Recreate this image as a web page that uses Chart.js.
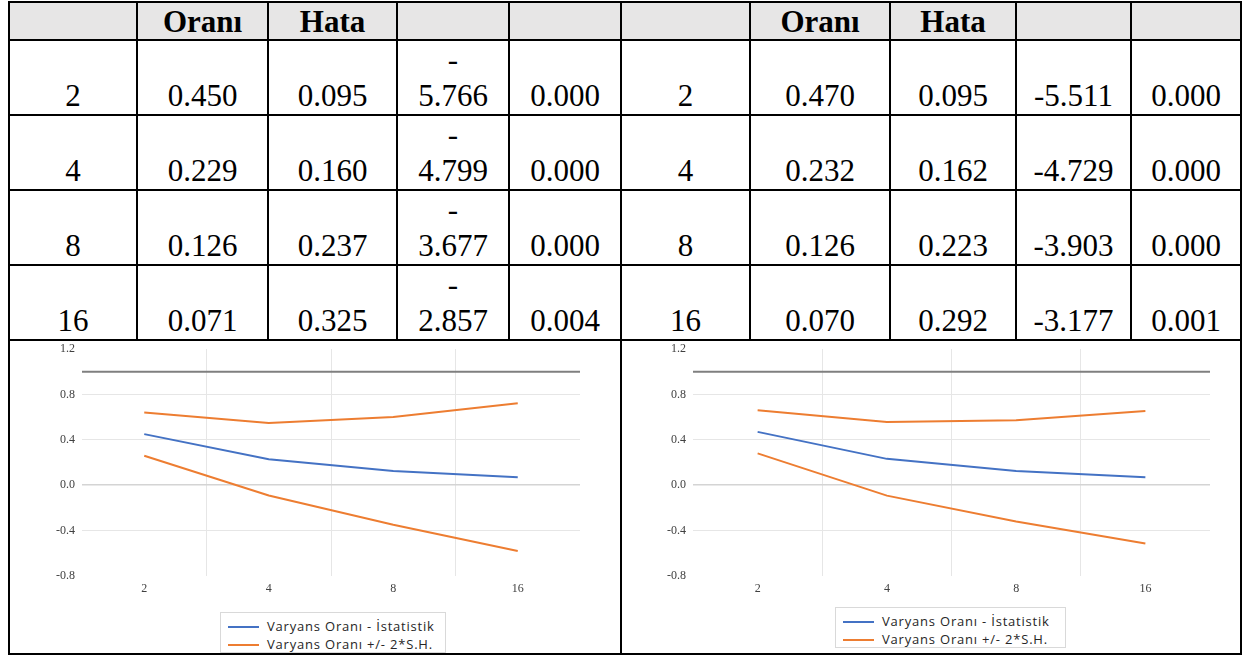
<!DOCTYPE html>
<html>
<head>
<meta charset="utf-8">
<title>Varyans Oranı</title>
<script src="https://cdn.jsdelivr.net/npm/chart.js@4.4.1/dist/chart.umd.min.js"></script>
<style>
  html, body { margin: 0; padding: 0; background: #fff; }
  body { width: 1247px; height: 657px; overflow: hidden; position: relative; }

  table.vr {
    position: absolute; left: 8px; top: 1px;
    border-collapse: collapse; table-layout: fixed;
    font-size: 31px; color: #000;
  }
  table.vr, table.vr td { font-family: "Liberation Serif", "Times New Roman", serif !important; }
  table.vr td {
    border: 2px solid #000; padding: 0;
    text-align: center; vertical-align: bottom; line-height: 36px;
    box-sizing: border-box;
  }
  table.vr tr.head td { background: #e7e6e6; font-weight: bold; height: 38px; vertical-align: middle; line-height: 33px; }
  table.vr tr.row td { height: 75px; }
  table.vr tr.charts td { height: 314px; }

  .chart-wrap { position: absolute; top: 341px; height: 311px; }
  #wrapLeft { left: 11px; width: 609px; }
  #wrapRight { left: 623px; width: 617px; }

  .legend {
    position: absolute; box-sizing: border-box; border: 1px solid #d9d9d9; background: #fff;
    font-family: "Open Sans", "Liberation Sans", sans-serif; font-size: 13px; color: #262626;
    letter-spacing: 0.8px; padding: 4px 0 0 7px;
  }
  .legend .item { height: 18px; line-height: 18px; white-space: nowrap; }
  .legend .swatch { display: inline-block; width: 31px; border-top: 2px solid; vertical-align: middle; margin-right: 8px; position: relative; top: -1px; }
  #legendLeft { left: 220px; top: 612px; width: 226px; height: 41px; }
  #legendRight { left: 835px; top: 607px; width: 231px; height: 41px; }
</style>
</head>
<body>

<table class="vr" id="vr-table">
  <colgroup>
    <col style="width:128px"><col style="width:131px"><col style="width:129px"><col style="width:112px"><col style="width:112px">
    <col style="width:129px"><col style="width:140px"><col style="width:126px"><col style="width:115px"><col style="width:110px">
  </colgroup>
  <tbody id="vr-body"></tbody>
</table>

<div class="chart-wrap" id="wrapLeft"><canvas id="chartLeft"></canvas></div>
<div class="chart-wrap" id="wrapRight"><canvas id="chartRight"></canvas></div>
<div class="legend" id="legendLeft"></div>
<div class="legend" id="legendRight"></div>

<script>
// table + two variance-ratio charts (left / right panels)

const lags = ["2", "4", "8", "16"];
const headerCells = ["", "Oranı", "Hata", "", ""];

// left panel
const leftRatio = [0.450, 0.229, 0.126, 0.071];
const leftSE = [0.095, 0.160, 0.237, 0.325];
const leftZ = [-5.766, -4.799, -3.677, -2.857];
const leftP = [0.000, 0.000, 0.000, 0.004];
const leftUpper = [0.640, 0.549, 0.600, 0.721];
const leftLower = [0.260, -0.091, -0.348, -0.579];

// right panel
const rightRatio = [0.470, 0.232, 0.126, 0.070];
const rightSE = [0.095, 0.162, 0.223, 0.292];
const rightZ = [-5.511, -4.729, -3.903, -3.177];
const rightP = [0.000, 0.000, 0.000, 0.001];
const rightUpper = [0.660, 0.556, 0.572, 0.654];
const rightLower = [0.280, -0.092, -0.320, -0.514];

const yTicks = [-0.8, -0.4, 0.0, 0.4, 0.8, 1.2];
const refLevel = 1;

const statLabel = "Varyans Oranı - İstatistik";
const bandLabel = "Varyans Oranı +/- 2*S.H.";
const BLUE = "#4472c4";
const ORANGE = "#ed7d31";
const REF_GRAY = "#7f7f7f";
const SERIF = "'Liberation Serif', 'Times New Roman', serif";

// ---- table ----
function fmt(v) { return v.toFixed(3); }

function cell(content) {
  return `<td style="font-family:${SERIF}">${content}</td>`;
}

function buildTable() {
  const tbody = document.getElementById("vr-body");
  let html = '<tr class="head">';
  headerCells.concat(headerCells).forEach((h) => { html += cell(h); });
  html += "</tr>";

  lags.forEach((lag, i) => {
    // left z column wraps the minus sign onto its own line, as in the source
    const zl = "-<br>" + fmt(Math.abs(leftZ[i]));
    html += '<tr class="row">' +
      cell(lag) + cell(fmt(leftRatio[i])) + cell(fmt(leftSE[i])) + cell(zl) + cell(fmt(leftP[i])) +
      cell(lag) + cell(fmt(rightRatio[i])) + cell(fmt(rightSE[i])) + cell(fmt(rightZ[i])) + cell(fmt(rightP[i])) +
      "</tr>";
  });
  html += '<tr class="charts"><td colspan="5"></td><td colspan="5"></td></tr>';
  tbody.innerHTML = html;
}

// ---- charts ----
const refLinePlugin = {
  id: "refLine",
  beforeDatasetsDraw(chart) {
    const { ctx, chartArea, scales } = chart;
    const y = scales.y.getPixelForValue(refLevel);
    ctx.save();
    ctx.strokeStyle = REF_GRAY;
    ctx.lineWidth = 2;
    ctx.beginPath();
    ctx.moveTo(chartArea.left, y);
    ctx.lineTo(chartArea.right, y);
    ctx.stroke();
    ctx.restore();
  },
};

function makeChart(canvasId, ratio, upper, lower, yWidth, padRight) {
  const tickFont = { family: SERIF, size: 12 };
  return new Chart(document.getElementById(canvasId), {
    type: "line",
    data: {
      labels: lags,
      datasets: [
        { label: statLabel, data: ratio, borderColor: BLUE, backgroundColor: BLUE },
        { label: bandLabel, data: upper, borderColor: ORANGE, backgroundColor: ORANGE },
        { label: bandLabel, data: lower, borderColor: ORANGE, backgroundColor: ORANGE },
      ],
    },
    options: {
      responsive: true,
      maintainAspectRatio: false,
      animation: false,
      layout: { padding: { top: 8, right: padRight, bottom: 0, left: 0 } },
      elements: {
        line: { borderWidth: 2, tension: 0 },
        point: { radius: 0, hoverRadius: 0 },
      },
      plugins: { legend: { display: false }, tooltip: { enabled: false } },
      scales: {
        x: {
          offset: true,
          grid: {
            offset: true,
            drawTicks: false,
            color: (c) => (c.index > 0 ? "#e6e6e6" : "rgba(0,0,0,0)"),
          },
          border: { display: false },
          ticks: { color: "#404040", font: tickFont, padding: 6 },
          afterFit: (s) => { s.height = 76; },
        },
        y: {
          min: yTicks[0],
          max: yTicks[yTicks.length - 1],
          afterBuildTicks: (s) => { s.ticks = yTicks.map((v) => ({ value: v })); },
          grid: {
            drawTicks: false,
            lineWidth: (c) => (c.tick && Math.abs(c.tick.value) < 1e-9 ? 1.5 : 1),
            color: (c) => {
              const v = c.tick ? c.tick.value : null;
              if (v === null || v === yTicks[0] || v === yTicks[yTicks.length - 1]) return "rgba(0,0,0,0)";
              return Math.abs(v) < 1e-9 ? "#d4d4d4" : "#e6e6e6";
            },
          },
          border: { display: false },
          ticks: {
            color: "#404040",
            font: tickFont,
            padding: 7,
            callback: (v) => (Math.abs(v) < 1e-9 ? "0.0" : Number(v).toFixed(1)),
          },
          // fixed axis width; top/bottom label overhang left to layout padding
          afterFit: (s) => { s.width = yWidth; s.paddingTop = 0; s.paddingBottom = 0; },
        },
      },
    },
    plugins: [refLinePlugin],
  });
}

function buildLegend(elId, chart) {
  const el = document.getElementById(elId);
  const seen = new Set();
  el.innerHTML = "";
  chart.data.datasets.forEach((ds) => {
    if (seen.has(ds.label)) return;
    seen.add(ds.label);
    const item = document.createElement("div");
    item.className = "item";
    item.innerHTML = `<span class="swatch" style="border-color:${ds.borderColor}"></span>`;
    item.appendChild(document.createTextNode(ds.label));
    el.appendChild(item);
  });
}

buildTable();
const leftChart = makeChart("chartLeft", leftRatio, leftUpper, leftLower, 71, 40);
const rightChart = makeChart("chartRight", rightRatio, rightUpper, rightLower, 70, 30);
buildLegend("legendLeft", leftChart);
buildLegend("legendRight", rightChart);
</script>
</body>
</html>
